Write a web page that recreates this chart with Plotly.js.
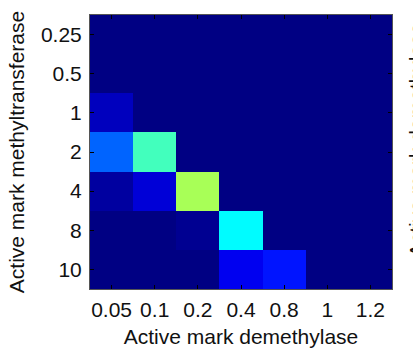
<!DOCTYPE html>
<html>
<head>
<meta charset="utf-8">
<script src="https://cdn.plot.ly/plotly-3.0.1.min.js"></script>
<style>
html,body{margin:0;padding:0;background:#fff;}
#chart{width:413px;height:352px;}
</style>
</head>
<body>
<div id="chart"></div>
<script>
// Column categories (x): active mark demethylase
const demethylase = ['0.05', '0.1', '0.2', '0.4', '0.8', '1', '1.2'];
// Row categories (y): active mark methyltransferase
const methyltransferase = ['0.25', '0.5', '1', '2', '4', '8', '10'];
// Cell values, one row per methyltransferase level (estimated from the jet colours)
const row_025 = [0, 0, 0, 0, 0, 0, 0];
const row_05  = [0, 0, 0, 0, 0, 0, 0];
const row_1   = [0.059, 0, 0, 0, 0, 0, 0];
const row_2   = [0.223, 0.44, 0, 0, 0, 0, 0];
const row_4   = [0.029, 0.085, 0.54, 0, 0, 0, 0];
const row_8   = [0, 0, 0.014, 0.372, 0, 0, 0];
const row_10  = [0, 0, 0, 0.11, 0.145, 0, 0];

const z = [row_025, row_05, row_1, row_2, row_4, row_8, row_10];

const jet = [
  [0, 'rgb(0,0,131)'],
  [0.125, 'rgb(0,0,255)'],
  [0.375, 'rgb(0,255,255)'],
  [0.625, 'rgb(255,255,0)'],
  [0.875, 'rgb(255,0,0)'],
  [1, 'rgb(128,0,0)']
];

const font = {family: '"Liberation Sans", Arial, sans-serif', size: 21, color: '#111'};

const data = [{
  type: 'heatmap',
  x: demethylase,
  y: methyltransferase,
  z: z,
  zmin: 0,
  zmax: 1,
  colorscale: jet,
  showscale: false,
  hoverinfo: 'x+y+z'
}];

const layout = {
  width: 413,
  height: 352,
  margin: {l: 90, r: 21, t: 15, b: 63},
  paper_bgcolor: '#ffffff',
  plot_bgcolor: '#ffffff',
  font: font,
  showlegend: false,
  xaxis: {
    type: 'category',
    title: {text: 'Active mark demethylase', font: font, standoff: 9},
    tickfont: font,
    ticks: 'inside',
    ticklen: 4,
    tickcolor: '#000',
    ticklabelstandoff: 2,
    showline: true,
    linecolor: '#555',
    linewidth: 1,
    mirror: 'ticks',
    showgrid: false,
    zeroline: false,
    automargin: false
  },
  yaxis: {
    type: 'category',
    autorange: 'reversed',
    title: {text: 'Active mark methyltransferase', font: font, standoff: 10},
    tickfont: font,
    ticks: 'inside',
    ticklen: 4,
    tickcolor: '#000',
    ticklabelstandoff: 3,
    showline: true,
    linecolor: '#555',
    linewidth: 1,
    mirror: 'ticks',
    showgrid: false,
    zeroline: false,
    automargin: false
  },
  annotations: [{
    text: 'Active mark demethylase',
    xref: 'paper', yref: 'paper',
    x: 1.037, y: 0.545,
    xanchor: 'left', yanchor: 'middle',
    textangle: -90,
    showarrow: false,
    font: font
  }]
};

Plotly.newPlot('chart', data, layout, {displayModeBar: false, staticPlot: true});
</script>
</body>
</html>
